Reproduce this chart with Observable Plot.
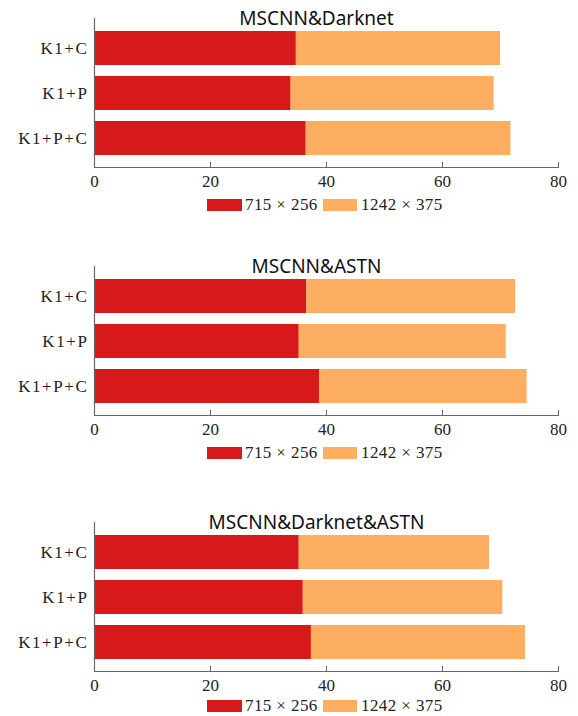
<!DOCTYPE html>
<html><head><meta charset="utf-8">
<script src="https://cdn.jsdelivr.net/npm/d3@7"></script>
<script src="https://cdn.jsdelivr.net/npm/@observablehq/plot@0.6"></script>
<style>
body{margin:0;background:#fff;}
#root{position:relative;width:578px;height:716px;overflow:hidden;}
.panel{position:absolute;left:0;width:578px;height:216px;}
.legend{position:absolute;left:0;top:0;width:578px;height:14px;font-family:"Liberation Serif","DejaVu Serif",serif;font-size:17px;color:#222;}
.sw{position:absolute;top:1px;height:12px;}
.lt{position:absolute;top:-1px;line-height:15px;white-space:nowrap;letter-spacing:0.4px;}
g[aria-label="y-axis tick label"] text{letter-spacing:1.6px;}
</style></head><body><div id="root"></div>
<script>
// ---- data ----
const categories = ["K1+C", "K1+P", "K1+P+C"];
const seriesNames = ["715 × 256", "1242 × 375"];
const titles = ["MSCNN&Darknet", "MSCNN&ASTN", "MSCNN&Darknet&ASTN"];
// segment lengths (715x256 part, 1242x375 part) per panel
const darknetLow  = [34.8, 33.9, 36.5];
const darknetHigh = [35.2, 35.0, 35.3];
const astnLow     = [36.6, 35.3, 38.8];
const astnHigh    = [36.0, 35.7, 35.8];
const bothLow     = [35.3, 36.0, 37.4];
const bothHigh    = [32.8, 34.4, 36.9];
const xTicks = [0, 20, 40, 60, 80];
const seriesColors = ["#d7191c", "#fdae61"];

const panels = [
  {title: titles[0], low: darknetLow, high: darknetHigh},
  {title: titles[1], low: astnLow, high: astnHigh},
  {title: titles[2], low: bothLow, high: bothHigh}
];
const panelTops = [0, 248, 504];
const legendOffsets = [31, 31, 28];
const frameH = 149, mt = 18, mb = 30;
const axisColor = "#666";
const serif = "'Liberation Serif', 'DejaVu Serif', serif";

const root = document.getElementById("root");
panels.forEach((p, k) => {
  const rows = categories.flatMap((c, i) => [
    {cat: c, series: seriesNames[0], value: p.low[i]},
    {cat: c, series: seriesNames[1], value: p.high[i]}
  ]);
  const div = document.createElement("div");
  div.className = "panel";
  div.style.top = panelTops[k] + "px";
  const svg = Plot.plot({
    width: 578, height: mt + frameH + mb,
    marginTop: mt, marginBottom: mb, marginLeft: 94, marginRight: 20,
    style: {fontFamily: serif, fontSize: "17px", color: "#222", background: "transparent", overflow: "visible"},
    x: {domain: [0, 80]},
    y: {domain: categories, padding: 0.25},
    color: {domain: seriesNames, range: seriesColors},
    marks: [
      Plot.barX(rows, Plot.stackX({x: "value", y: "cat", fill: "series"})),
      Plot.ruleX([0], {stroke: axisColor, strokeWidth: 1.2}),
      Plot.frame({anchor: "bottom", stroke: axisColor, strokeWidth: 1.2}),
      Plot.tickX(xTicks.slice(1), {x: d => d, stroke: axisColor, insetTop: frameH - 5}),
      Plot.axisX({ticks: xTicks, tickSize: 0, tickPadding: 7, label: null, fill: "#222", fontFamily: serif, fontSize: 17}),
      Plot.axisY({tickSize: 0, tickPadding: 6, label: null, fill: "#222", fontFamily: serif, fontSize: 17}),
      Plot.text([p.title], {frameAnchor: "top", dx: -10, dy: 6, lineAnchor: "bottom",
        fontFamily: "'Noto Sans', sans-serif", fontSize: 19, fill: "#111"})
    ]
  });
  div.appendChild(svg);
  const leg = document.createElement("div");
  leg.className = "legend";
  leg.style.top = (mt + frameH + legendOffsets[k]) + "px";
  leg.innerHTML =
    `<div class="sw" style="left:207px;width:35px;background:${seriesColors[0]}"></div>` +
    `<div class="lt" style="left:245px">${seriesNames[0]}</div>` +
    `<div class="sw" style="left:323px;width:34px;background:${seriesColors[1]}"></div>` +
    `<div class="lt" style="left:361px">${seriesNames[1]}</div>`;
  div.appendChild(leg);
  root.appendChild(div);
});
</script>
</body></html>
